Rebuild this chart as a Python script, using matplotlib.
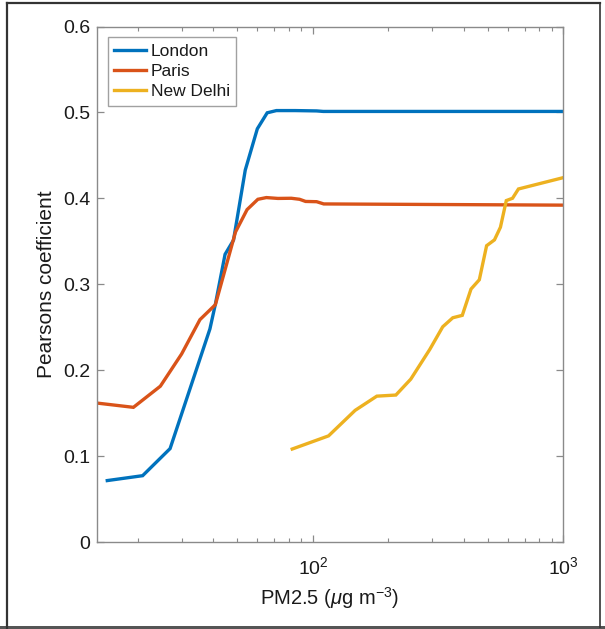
import matplotlib
matplotlib.use("Agg")
import matplotlib.pyplot as plt
from matplotlib.ticker import LogLocator, FixedLocator, FixedFormatter, NullFormatter
from matplotlib.patches import Rectangle
from matplotlib.lines import Line2D

plt.rcParams['font.family'] = ['Liberation Sans', 'DejaVu Sans']
plt.rcParams['mathtext.fontset'] = 'custom'
plt.rcParams['mathtext.rm'] = 'Liberation Sans'
plt.rcParams['mathtext.it'] = 'Liberation Sans:italic'
plt.rcParams['mathtext.bf'] = 'Liberation Sans:bold'

# ---- data ----
london_x = [15.1, 20.9, 26.9, 38.8, 40.8, 44.6, 48.2, 53.7, 60.0, 65.7, 71.5, 85.0, 103.5, 110.0, 1000]
london_y = [0.0718, 0.0775, 0.1090, 0.2482, 0.2770, 0.3350, 0.3515, 0.4330, 0.4810, 0.4996, 0.5022, 0.5022, 0.5018, 0.5012, 0.5012]

paris_x = [13.7, 19.2, 24.6, 29.9, 35.4, 40.8, 49.1, 54.6, 60.3, 65.2, 72.5, 82.0, 88.5, 93.5, 103.5, 110.5, 1000]
paris_y = [0.1620, 0.1570, 0.1816, 0.2190, 0.2590, 0.2764, 0.3610, 0.3870, 0.3990, 0.4010, 0.4000, 0.4002, 0.3990, 0.3965, 0.3962, 0.3936, 0.3922]

delhi_x = [82.7, 115.5, 147.5, 180.0, 214.5, 246.0, 293.0, 330.0, 362.0, 395.0, 428.0, 462.0, 494.0, 531.0, 561.0, 592.0, 627.0, 662.0, 1000]
delhi_y = [0.1085, 0.1238, 0.1535, 0.1700, 0.1713, 0.1898, 0.2244, 0.2507, 0.2612, 0.2640, 0.2946, 0.3054, 0.3450, 0.3518, 0.3665, 0.3975, 0.4002, 0.4110, 0.4242]

labels = ['London', 'Paris', 'New Delhi']
colors = ['#0072BD', '#D95319', '#EDB120']

yticks = [0, 0.1, 0.2, 0.3, 0.4, 0.5, 0.6]
ytick_labels = ['0', '0.1', '0.2', '0.3', '0.4', '0.5', '0.6']
xticks = [100, 1000]
xtick_labels = ['$10^{2}$', '$10^{3}$']

# ---- figure ----
W, H = 605, 629
fig = plt.figure(figsize=(W / 100, H / 100), dpi=100)
ax = fig.add_axes([96.7 / W, 1 - 542.3 / H, (563.3 - 96.7) / W, (542.3 - 26.5) / H])

for xs, ys, c, lab in zip([london_x, paris_x, delhi_x], [london_y, paris_y, delhi_y], colors, labels):
    ax.plot(xs, ys, color=c, lw=2.4, label=lab, solid_joinstyle='miter')

ax.set_xscale('log')
ax.set_xlim(13.7, 1000)
ax.set_ylim(0, 0.6)

ax.xaxis.set_major_locator(FixedLocator(xticks))
ax.xaxis.set_major_formatter(FixedFormatter(xtick_labels))
ax.xaxis.set_minor_locator(LogLocator(base=10, subs=range(2, 10)))
ax.xaxis.set_minor_formatter(NullFormatter())
ax.set_yticks(yticks)
ax.set_yticklabels(ytick_labels)

axcol = '#8a8a8a'
for s in ax.spines.values():
    s.set_color(axcol)
    s.set_linewidth(1.0)
ax.tick_params(which='both', direction='in', top=True, right=True, color=axcol,
               labelsize=14, labelcolor='#1a1a1a')
ax.tick_params(which='major', length=5, width=0.9)
ax.tick_params(which='minor', length=3, width=0.8)
ax.tick_params(axis='y', which='major', pad=4.5)
ax.tick_params(axis='x', which='major', pad=10)

ax.set_xlabel('PM2.5 ($\\mu$g m$^{-3}$)', fontsize=14.5, color='#1a1a1a', labelpad=5)
ax.set_ylabel('Pearsons coefficient', fontsize=15, color='#1a1a1a', labelpad=5)

leg = ax.legend(loc='upper left', bbox_to_anchor=(0.0236, 0.9787), borderaxespad=0,
                fontsize=12.5, frameon=True, fancybox=False, handlelength=1.85,
                handletextpad=0.3, labelspacing=0.3, borderpad=0.35)
leg.get_frame().set_edgecolor(axcol)
leg.get_frame().set_linewidth(1.0)
for t in leg.get_texts():
    t.set_color('#1a1a1a')

# outer frame of the figure
fig.add_artist(Line2D([7 / W, 7 / W], [0, 1 - 2.5 / H], transform=fig.transFigure, color='#333333', lw=1.6))
fig.add_artist(Line2D([7 / W, 600 / W], [1 - 3 / H, 1 - 3 / H], transform=fig.transFigure, color='#333333', lw=1.6))
fig.add_artist(Line2D([599.5 / W, 599.5 / W], [1 - 627 / H, 1 - 3 / H], transform=fig.transFigure, color='#333333', lw=1.2))
fig.add_artist(Rectangle((0, 0), 1, 3 / H, transform=fig.transFigure, color='#555555', lw=0))

fig.savefig('out.png', dpi=100)
